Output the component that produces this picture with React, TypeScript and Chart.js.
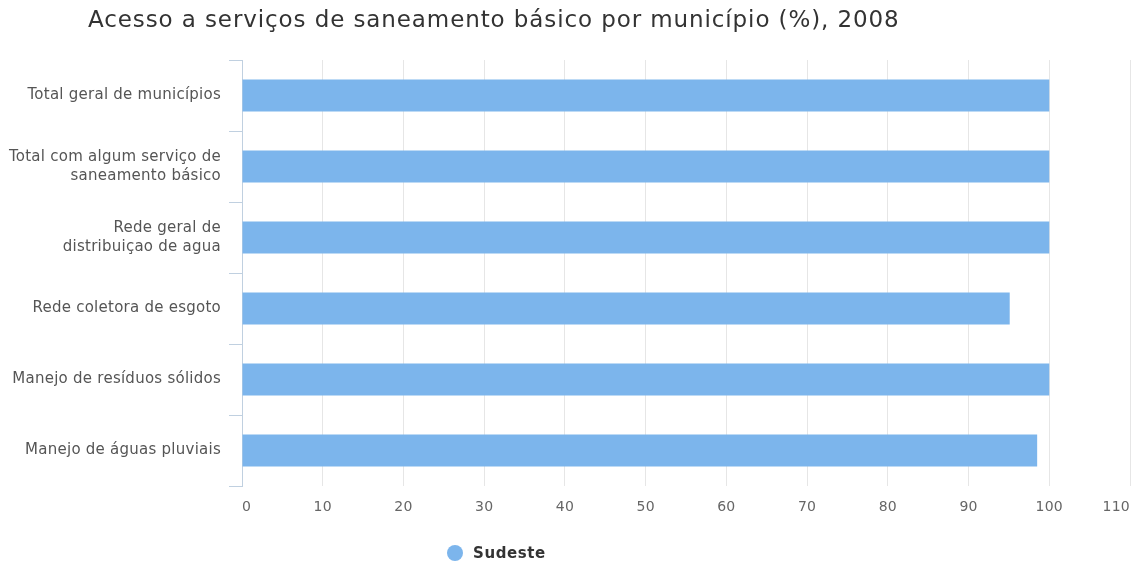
import React, { useEffect, useRef } from "react";
import { Chart, registerables } from "chart.js";

Chart.register(...registerables);

const titleText = "Acesso a serviços de saneamento básico por município (%), 2008";
const categories: (string | string[])[] = [
  "Total geral de municípios",
  ["Total com algum serviço de", "saneamento básico"],
  ["Rede geral de", "distribuiçao de agua"],
  "Rede coletora de esgoto",
  "Manejo de resíduos sólidos",
  "Manejo de águas pluviais",
];
const seriesName = "Sudeste";
const sudesteValues = [100, 100, 100, 95.1, 100, 98.5];
const xMin = 0;
const xMax = 110;
const xStep = 10;

const FONT = "'DejaVu Sans', sans-serif";
const BAR_COLOR = "#7cb5ec";

const decorPlugin = {
  id: "decor",
  beforeDraw(chart: any) {
    chart.ctx.letterSpacing = "0.25px";
  },
  afterDraw(chart: any) {
    const ctx = chart.ctx;
    ctx.save();
    // Title
    ctx.letterSpacing = "0.9px";
    ctx.fillStyle = "#333333";
    ctx.font = `23px ${FONT}`;
    ctx.textAlign = "left";
    ctx.textBaseline = "middle";
    ctx.fillText(titleText, 88, 21);
    // Legend
    ctx.fillStyle = BAR_COLOR;
    ctx.beginPath();
    ctx.arc(455, 553, 8, 0, Math.PI * 2);
    ctx.fill();
    ctx.letterSpacing = "0.6px";
    ctx.fillStyle = "#333333";
    ctx.font = `bold 15px ${FONT}`;
    ctx.fillText(seriesName, 473, 554);
    ctx.restore();
    ctx.letterSpacing = "0px";
  },
};

export default function App() {
  const ref = useRef<HTMLCanvasElement | null>(null);
  useEffect(() => {
    if (!ref.current) return;
    const chart = new Chart(ref.current, {
      type: "bar",
      data: {
        labels: categories as any,
        datasets: [
          {
            label: seriesName,
            data: sudesteValues,
            backgroundColor: BAR_COLOR,
            borderWidth: 0,
            barPercentage: 0.45,
            categoryPercentage: 1,
          },
        ],
      },
      options: {
        indexAxis: "y",
        responsive: false,
        animation: false,
        layout: { padding: { top: 60, right: 7, left: 0, bottom: 0 } },
        plugins: {
          legend: { display: false },
          title: { display: false },
          tooltip: { enabled: false },
        },
        scales: {
          x: {
            type: "linear",
            min: xMin,
            max: xMax,
            ticks: {
              stepSize: xStep,
              color: "#666666",
              font: { family: FONT, size: 14 },
              padding: 13,
              align: "inner",
            },
            grid: { color: "#e6e6e6", lineWidth: 1, drawTicks: false },
            border: { display: false },
            afterFit(scale: any) {
              scale.height = 81;
              scale.paddingLeft = 0;
              scale.paddingRight = 0;
            },
          },
          y: {
            type: "category",
            ticks: {
              color: "#555555",
              font: { family: FONT, size: 15, lineHeight: 1.3 },
              padding: 8,
            },
            grid: {
              display: true,
              drawOnChartArea: false,
              drawTicks: true,
              tickLength: 13,
              color: "#c0d0e0",
              offset: true,
            },
            border: { display: true, color: "#c0d0e0", width: 1 },
            afterFit(scale: any) {
              scale.width = 242;
            },
          },
        },
      },
      plugins: [decorPlugin],
    });
    return () => chart.destroy();
  }, []);
  return (
    <div style={{ position: "absolute", left: 0, top: 0, width: 1137, height: 567, background: "#fff" }}>
      <canvas ref={ref} width={1137} height={567} style={{ display: "block" }} />
    </div>
  );
}
